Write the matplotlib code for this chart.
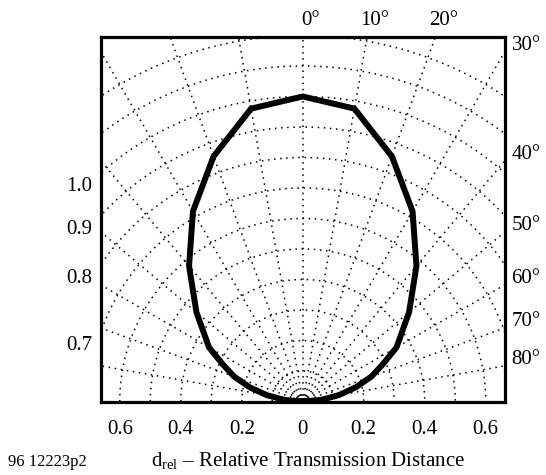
import numpy as np
import matplotlib
matplotlib.use("Agg")
import matplotlib.pyplot as plt

plt.rcParams['font.family'] = ['Liberation Serif', 'DejaVu Serif']
plt.rcParams['mathtext.fontset'] = 'custom'
plt.rcParams['mathtext.rm'] = 'Liberation Serif'
plt.rcParams['mathtext.it'] = 'Liberation Serif:italic'

# ---- data ----
angles_deg = [-90, -85, -80, -75, -70, -65, -60, -50, -40, -30, -20, -10, 0,
              10, 20, 30, 40, 50, 60, 65, 70, 75, 80, 85, 90]
d_rel = [0.0, 0.06, 0.12, 0.18, 0.24, 0.29, 0.355, 0.455, 0.58, 0.72, 0.855, 0.975, 1.0,
         0.975, 0.855, 0.72, 0.58, 0.455, 0.355, 0.29, 0.24, 0.18, 0.12, 0.06, 0.0]

x_ticks = [-0.6, -0.4, -0.2, 0.0, 0.2, 0.4, 0.6]
x_ticklabels = ["0.6", "0.4", "0.2", "0", "0.2", "0.4", "0.6"]
grid_radii = [0.1, 0.2, 0.3, 0.4, 0.5, 0.6, 0.7, 0.8, 0.9, 1.0, 1.1, 1.2]
grid_angles = [-80, -70, -60, -50, -40, -30, -20, -10, 0, 10, 20, 30, 40, 50, 60, 70, 80]
top_angle_labels = [0, 10, 20]
right_angle_labels = [30, 40, 50, 60, 70, 80]
left_labels = [1.0, 0.9, 0.8, 0.7]

XMAX = 0.6615
YMAX = 1.195
FS = 15

fig = plt.figure(figsize=(5.46, 4.75), dpi=100)
ax = fig.add_axes([101 / 546, (475 - 401.5) / 475, 403.5 / 546, 364.5 / 475])
ax.set_xlim(-XMAX, XMAX)
ax.set_ylim(0, YMAX)

dot = (0, (1, 3))
# arcs
th = np.radians(np.linspace(-90, 90, 721))
for r in grid_radii:
    ax.plot(r * np.sin(th), r * np.cos(th), color='black', lw=1.1, linestyle=dot, zorder=1)
# radial lines
for a in grid_angles:
    t = np.radians(a)
    ax.plot([0, 2 * np.sin(t)], [0, 2 * np.cos(t)], color='black', lw=1.1, linestyle=dot, zorder=1)

# curve
t = np.radians(angles_deg)
r = np.array(d_rel)
ax.plot(r * np.sin(t), r * np.cos(t), color='black', lw=4.3, solid_joinstyle='miter', zorder=3)

for s in ax.spines.values():
    s.set_linewidth(2.3)
    s.set_zorder(4)

ax.set_xticks(x_ticks)
ax.set_xticklabels(x_ticklabels, fontsize=FS)
ax.tick_params(axis='x', length=0, pad=13.5)
ax.set_yticks([])

# top angle labels
for a in top_angle_labels:
    xa = YMAX * np.tan(np.radians(a))
    ax.annotate(f"{a}°", xy=(xa, YMAX), xytext=(5.8, 12), textcoords='offset points',
                ha='center', va='center', fontsize=FS, annotation_clip=False)
# right angle labels
for a in right_angle_labels:
    ya = XMAX / np.tan(np.radians(a))
    ax.annotate(f"{a}°", xy=(XMAX, ya), xytext=(5, 4.5), textcoords='offset points',
                ha='left', va='center', fontsize=FS, annotation_clip=False)
# left labels
for v in left_labels:
    ya = np.sqrt(v ** 2 - XMAX ** 2)
    ax.annotate(f"{v:.1f}", xy=(-XMAX, ya), xytext=(-6, -10), textcoords='offset points',
                ha='right', va='center', fontsize=FS, annotation_clip=False)

fig.text(308 / 546, (475 - 466) / 475, r"$\mathrm{d_{rel}}$ – Relative Transmission Distance",
         ha='center', va='baseline', fontsize=FS)
fig.text(8 / 546, (475 - 466) / 475, "96 12223p2", ha='left', va='baseline', fontsize=12)

fig.savefig("out.png", dpi=100)
